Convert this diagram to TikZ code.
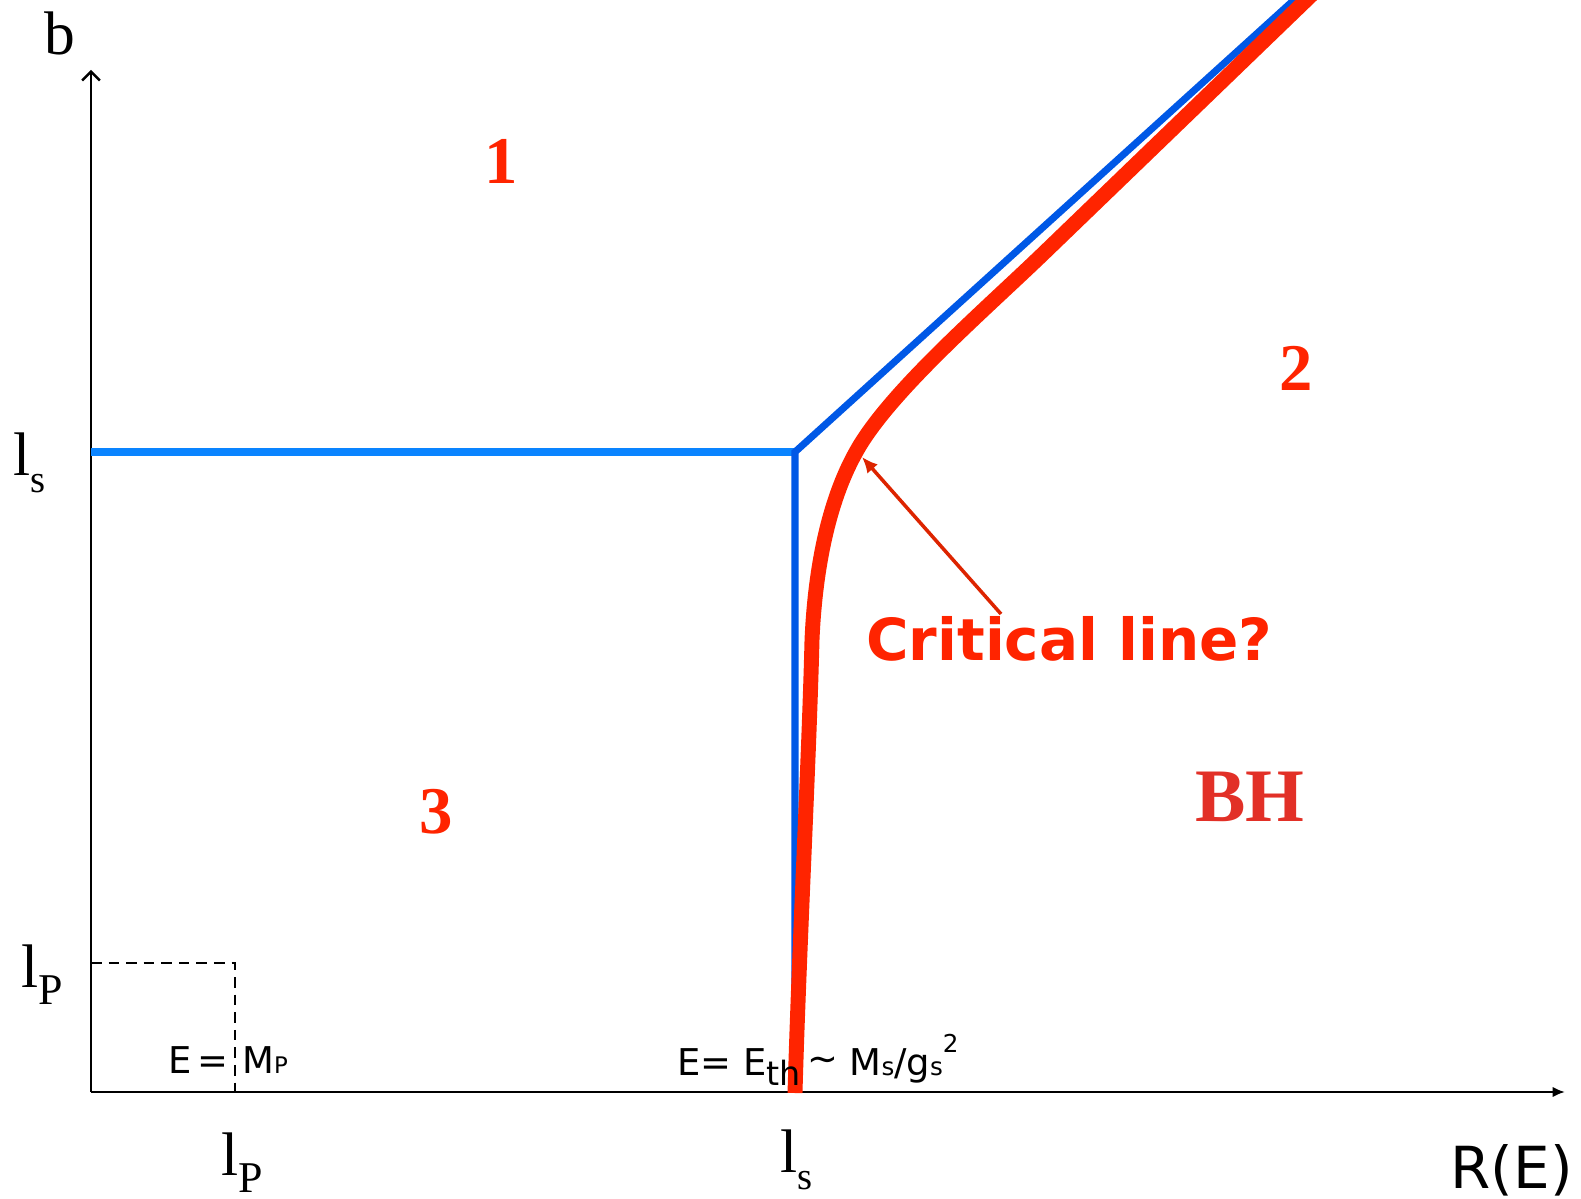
\documentclass[tikz,border=0pt]{standalone}
\usepackage{fontspec}
\setmainfont{Liberation Serif}
\newfontfamily\handfont{DejaVu Sans}
\usetikzlibrary{positioning,arrows.meta}

\definecolor{critred}{RGB}{255,36,0}
\definecolor{arrred}{RGB}{221,36,0}
\definecolor{bhred}{RGB}{226,48,39}
\definecolor{lineblue}{RGB}{0,88,230}
\definecolor{lightblue}{RGB}{10,132,255}

% lowered subscript in the label font
\newcommand{\lowsub}[2]{\raisebox{-0.28em}{\fontsize{#1}{#1}\selectfont #2}}
\newcommand{\smallat}[2]{{\fontsize{#1}{#1}\selectfont #2}}

\begin{document}
\begin{tikzpicture}[x=0.02cm,y=-0.02cm,
    axis/.style={line width=1.4pt},
    region/.style={font=\fontsize{38}{40}\selectfont\bfseries, text=critred},
    ticklab/.style={font=\fontsize{35}{38}\selectfont, inner sep=0pt},
    hand/.style={font=\handfont\fontsize{21}{24}\selectfont, inner sep=0pt}]
\useasboundingbox (0,0) rectangle (1581,1199);

% axes
\coordinate (o) at (91,1092);
\coordinate (ytop) at (91,70);
\coordinate (xend) at (1565,1092);
\draw[axis,-{Straight Barb[length=5pt,width=10pt]}] (o) -- (ytop);
\draw[axis,-{Latex[length=7pt,width=6pt]}] (o) -- (xend);

% planck box
\coordinate (lp) at (235,963);
\draw[dashed, line width=1pt, dash pattern=on 6pt off 4pt] (o |- lp) -- (lp) -- (lp |- o);

% string scale lines
\coordinate (c) at (795,452);
\coordinate (cbot) at (795,1090);
\coordinate (dtop) at (1316,-20);
\draw[lightblue, line width=4pt] (o |- c) -- (c);
\draw[lineblue, line width=4pt] (cbot) -- (c) -- (dtop);

% critical line
\coordinate (rbot) at (795,1093);
\coordinate (rlow) at (812,640);
\coordinate (rknee) at (856,452);
\coordinate (rbend) at (1047,250);
\coordinate (rtop) at (1327,-20);
\draw[critred, line width=8.5pt] (rbot) .. controls (799,950) and (809,760) .. (rlow)
  .. controls (815,570) and (828,502) .. (rknee)
  .. controls (889,392) and (985,310) .. (rbend) -- (rtop);
\coordinate (ctip) at (862,457);

% labels
\node[ticklab, anchor=base] (blab) at (60,55) {b};
\node[ticklab, anchor=base west] (lsy) at (13,475) {l\lowsub{22}{s}};
\node[ticklab, anchor=base west] (lpy) at (21,987) {l\lowsub{25}{P}};
\node[ticklab, anchor=base west] (lpx) at (221,1175) {l\lowsub{25}{P}};
\node[ticklab, anchor=base west] (lsx) at (780,1172) {l\lowsub{22}{s}};
\node[hand, font=\handfont\fontsize{33}{36}\selectfont, anchor=base east] (rlab) at (1573,1188) {R(E)};

\node[hand, anchor=base east] (mplab) at (229,1073) {E\,=};
\node[hand, anchor=base west] (mpval) at (242,1073) {M\smallat{13}{P}};
\node[hand, anchor=base west] (ethlab) at (677,1075)
  {E= E\lowsub{19}{th}\,\raisebox{0.1em}{\textasciitilde} M\smallat{14}{s}/g\smallat{14}{s}\raisebox{0.6em}{\smallat{14}{2}}};

\node[region] (r1) at (501,161) {1};
\node[region] (r2) at (1296,368) {2};
\node[region] (r3) at (436,812) {3};
\node[region, font=\fontsize{43}{45}\selectfont\bfseries, text=bhred] (bh) at (1250,797) {BH};

\node[hand, font=\handfont\bfseries\fontsize{33}{36}\selectfont, text=critred, anchor=base west] (crit) at (866,660) {Critical line?};
\coordinate (ctail) at (1001,614);
\draw[-{Latex[length=9pt,width=8pt]}, arrred, line width=2pt] (ctail) -- (ctip);
\end{tikzpicture}
\end{document}
